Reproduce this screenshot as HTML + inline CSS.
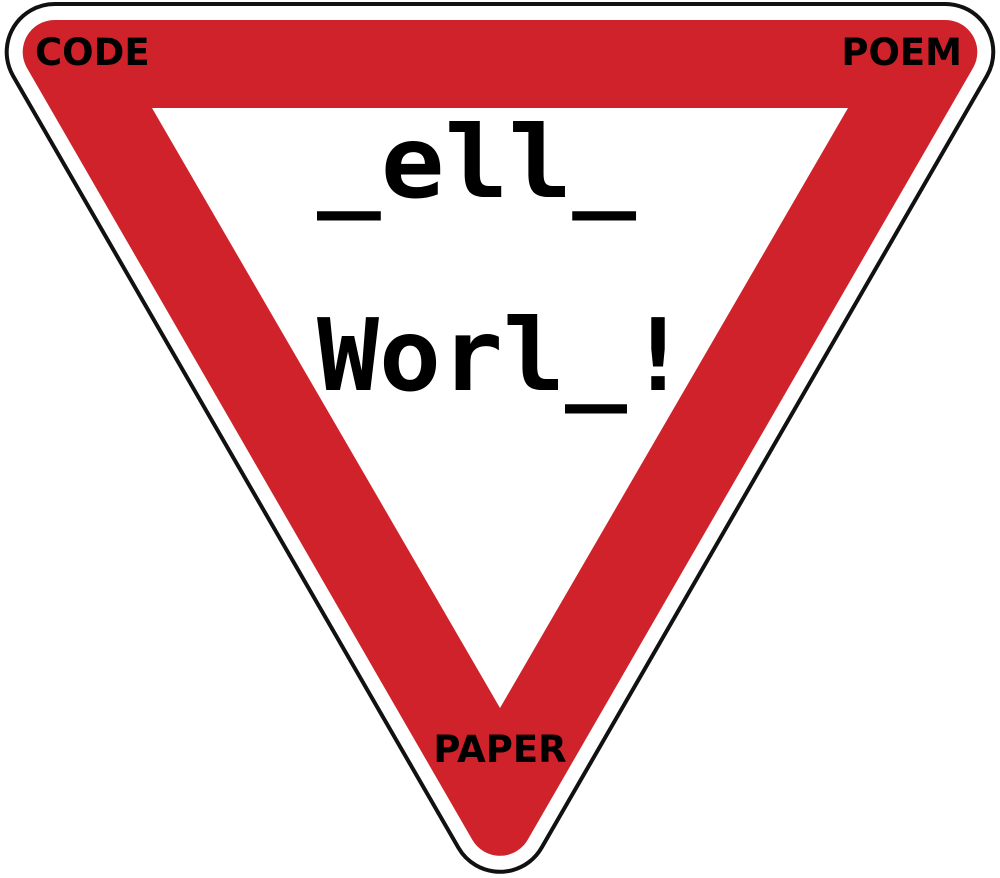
<!DOCTYPE html>
<html><head><meta charset="utf-8"><style>
html,body{margin:0;padding:0;background:#fff;width:1000px;height:878px;overflow:hidden}
svg{display:block}
</style></head><body>
<svg width="1000" height="878" viewBox="0 0 1000 878">
<polygon points="54.7,52 945.3,52 500,823.8" fill="#111" stroke="#111" stroke-width="100" stroke-linejoin="round"/>
<polygon points="54.7,52 945.3,52 500,823.8" fill="#fff" stroke="#fff" stroke-width="92" stroke-linejoin="round"/>
<polygon points="54.7,52 945.3,52 500,823.8" fill="#d0222b" stroke="#d0222b" stroke-width="64" stroke-linejoin="round"/>
<polygon points="152,108 848,108 500,708" fill="#fff"/>
<g font-family="'DejaVu Sans','Liberation Sans',sans-serif" font-weight="bold" font-size="37" fill="#000">
<text x="35" y="65">CODE</text>
<text x="962" y="65" text-anchor="end">POEM</text>
<text x="500" y="762" text-anchor="middle">PAPER</text>
</g>
<g font-family="'DejaVu Sans Mono','Liberation Mono',monospace" font-weight="bold" fill="#000">
<text x="317" y="197" font-size="100" textLength="319" lengthAdjust="spacingAndGlyphs">_ell_</text>
<text x="317" y="390" font-size="100" textLength="372" lengthAdjust="spacingAndGlyphs">Worl_!</text>
</g>
</svg>
</body></html>
